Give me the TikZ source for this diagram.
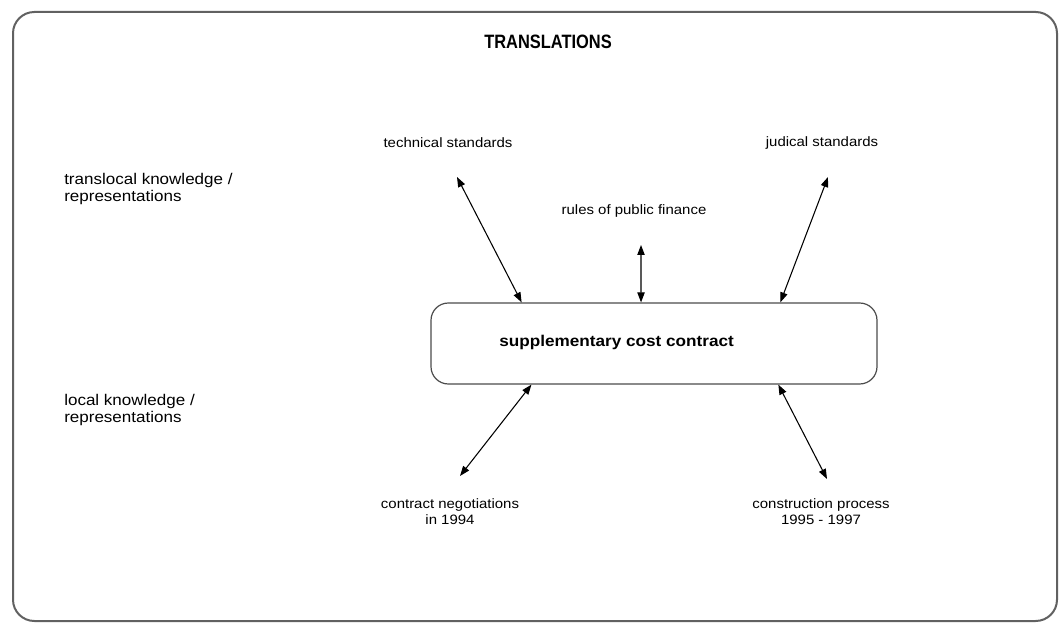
\documentclass[tikz,border=0pt]{standalone}
\usepackage{fontspec}
\setmainfont[FakeStretch=1.1]{Liberation Sans}
\newfontfamily\titlefont[FakeStretch=0.85]{Liberation Sans}
\usetikzlibrary{arrows.meta, calc, positioning}

\begin{document}
\begin{tikzpicture}[
  x=0.75pt, y=-0.75pt,
  tag/.style={font=\fontsize{10.2}{12}\selectfont, align=center, inner sep=0pt},
  side/.style={font=\fontsize{11.6}{12.5}\selectfont, align=left, anchor=west, inner sep=0pt},
  link/.style={{Triangle[length=7.5pt,width=5.5pt]}-{Triangle[length=7.5pt,width=5.5pt]}, line width=0.8pt},
  ]
  \useasboundingbox (0,0) rectangle (1061,623);
  \draw[line width=1.5pt, draw=black!62, rounded corners=16pt] (13,12) rectangle (1057,621);

  \node[font=\titlefont\bfseries\fontsize{14.5}{16}\selectfont, inner sep=0pt] (title) at (548,42) {TRANSLATIONS};

  % levels of knowledge
  \node[side] (translocal) at (64,189) {translocal knowledge /\\representations};
  \node[side] (local) at (64,410) {local knowledge /\\representations};

  % central contract
  \node[draw=black!70, line width=0.9pt, rounded corners=13pt,
        minimum width=334.5pt, minimum height=60.75pt] (contract) at (654,343.5) {};
  \node[font=\bfseries\fontsize{11.7}{13}\selectfont, anchor=west, inner sep=0pt]
        (contracttext) at (499,342) {supplementary cost contract};

  % translocal side
  \node[tag] (technical) at (448,143) {technical standards};
  \node[tag] (finance) at (634,211) {rules of public finance};
  \node[tag] (judical) at (822,143) {judical standards};

  % local side
  \node[tag] (negotiations) at (450,512) {contract negotiations\\in 1994};
  \node[tag] (construction) at (821,512) {construction process\\1995 - 1997};

  \coordinate (technical-end) at (457,177);
  \coordinate (finance-end) at (641,245);
  \coordinate (judical-end) at (828,177);
  \coordinate (negotiations-end) at (460,476);
  \coordinate (construction-end) at (827,479);

  \draw[link] (technical-end) -- ($(contract.north west)!0.204!(contract.north east)$);
  \draw[link] (finance-end) -- ($(contract.north west)!0.471!(contract.north east)$);
  \draw[link] (judical-end) -- ($(contract.north west)!0.7825!(contract.north east)$);
  \draw[link] (negotiations-end) -- ($(contract.south west)!0.226!(contract.south east)$);
  \draw[link] (construction-end) -- ($(contract.south west)!0.778!(contract.south east)$);
\end{tikzpicture}
\end{document}
